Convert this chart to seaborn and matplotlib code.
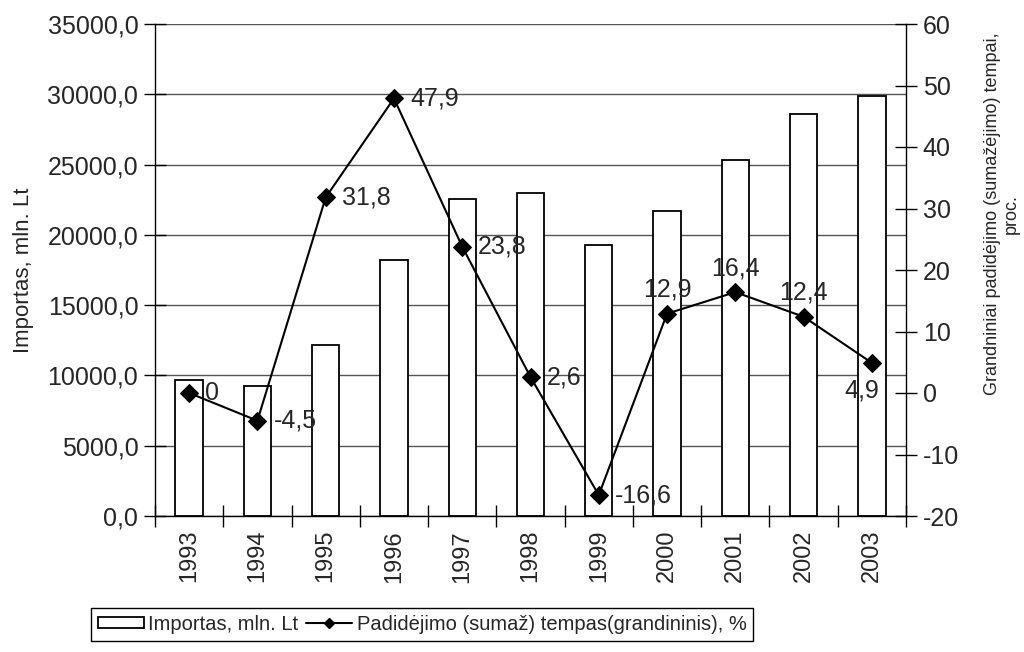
import numpy as np
import pandas as pd
import seaborn as sns
import matplotlib.pyplot as plt
from matplotlib.ticker import FuncFormatter, MultipleLocator, FixedLocator
from matplotlib.patches import Patch
from matplotlib.lines import Line2D

# data
years = ['1993', '1994', '1995', '1996', '1997', '1998', '1999', '2000', '2001', '2002', '2003']
imports = [9650, 9220, 12150, 18220, 22570, 23000, 19290, 21710, 25290, 28570, 29860]
growth = [0, -4.5, 31.8, 47.9, 23.8, 2.6, -16.6, 12.9, 16.4, 12.4, 4.9]
growth_labels = ['0', '-4,5', '31,8', '47,9', '23,8', '2,6', '-16,6', '12,9', '16,4', '12,4', '4,9']

df = pd.DataFrame({'year': years, 'imports': imports, 'growth': growth})

sns.set_style('white')
plt.rcParams['font.family'] = ['Liberation Sans', 'DejaVu Sans']
plt.rcParams['axes.unicode_minus'] = False

fig = plt.figure(figsize=(10.24, 6.52), dpi=100)
ax = fig.add_axes([155 / 1024, 1 - 516 / 652, 751 / 1024, 492 / 652])

# bars on the left axis
sns.barplot(data=df, x='year', y='imports', ax=ax, color='white', edgecolor='black',
            linewidth=1.3, width=0.4, saturation=1)
ax.set_xlim(-0.5, len(years) - 0.5)
ax.set_ylim(0, 35000)
ax.yaxis.set_major_locator(MultipleLocator(5000))
ax.yaxis.set_major_formatter(FuncFormatter(lambda v, p: f'{v:.1f}'.replace('.', ',')))
ax.set_xlabel('')
ax.set_ylabel('Importas, mln. Lt', fontsize=16, labelpad=10)
ax.grid(axis='y', color='#555555', linewidth=1)
ax.set_axisbelow(True)
ax.get_ygridlines()[-1].set_visible(False)

ax.tick_params(axis='y', left=True, direction='inout', length=16, width=1, labelsize=18,
               pad=4, color='black')
ax.tick_params(axis='x', which='major', length=0, labelsize=17, rotation=90, pad=10)
ax.xaxis.set_minor_locator(FixedLocator(np.arange(len(years) + 1) - 0.5))
ax.tick_params(axis='x', which='minor', bottom=True, direction='inout', length=16, width=1,
               color='black')

for s in ['left', 'bottom']:
    ax.spines[s].set_color('black')
    ax.spines[s].set_linewidth(1)
ax.spines['top'].set_visible(False)
ax.spines['right'].set_visible(False)

# growth rate line on the right axis
ax2 = ax.twinx()
xpos = np.arange(len(years))
sns.lineplot(x=xpos, y=df['growth'], ax=ax2, color='black', marker='D', markersize=9,
             markeredgecolor='black', linewidth=1.5)
ax2.set_ylim(-20, 60)
ax2.yaxis.set_major_locator(MultipleLocator(10))
ax2.tick_params(axis='y', right=True, direction='inout', length=16, width=1, labelsize=18,
                pad=4, color='black')
ax2.set_ylabel('')
for s in ['top', 'left', 'bottom']:
    ax2.spines[s].set_visible(False)
ax2.spines['right'].set_color('black')
ax2.spines['right'].set_linewidth(1)
ax2.grid(False)

fig.text(1002 / 1024, 1 - 214 / 652, 'Grandniniai padidėjimo (sumažėjimo) tempai,\nproc.',
         rotation=90, ha='center', va='center', multialignment='center', fontsize=13,
         linespacing=1.1)

# data labels
offsets = {7: (0, 24, 'center'), 8: (0, 24, 'center'), 9: (0, 24, 'center'), 10: (-10, -28, 'center')}
for i, (v, lab) in enumerate(zip(growth, growth_labels)):
    dx, dy, ha = offsets.get(i, (16, 0, 'left'))
    ax2.annotate(lab, (i, v), xytext=(dx, dy), textcoords='offset pixels', ha=ha, va='center',
                 fontsize=18)

# legend
handles = [Patch(facecolor='white', edgecolor='black', linewidth=1.3, label='Importas, mln. Lt'),
           Line2D([], [], color='black', marker='D', markersize=5, linewidth=1.5,
                  label='Padidėjimo (sumaž) tempas(grandininis), %')]
leg = fig.legend(handles=handles, loc='lower center', bbox_to_anchor=(422 / 1024, 0.002), ncol=2,
                 fontsize=14.5, frameon=True, fancybox=False, framealpha=1, edgecolor='black',
                 handlelength=2.3, handleheight=0.45, handletextpad=0.2, columnspacing=0.4,
                 borderpad=0.35)
leg.get_frame().set_linewidth(1)

fig.savefig('out.png', dpi=100)
